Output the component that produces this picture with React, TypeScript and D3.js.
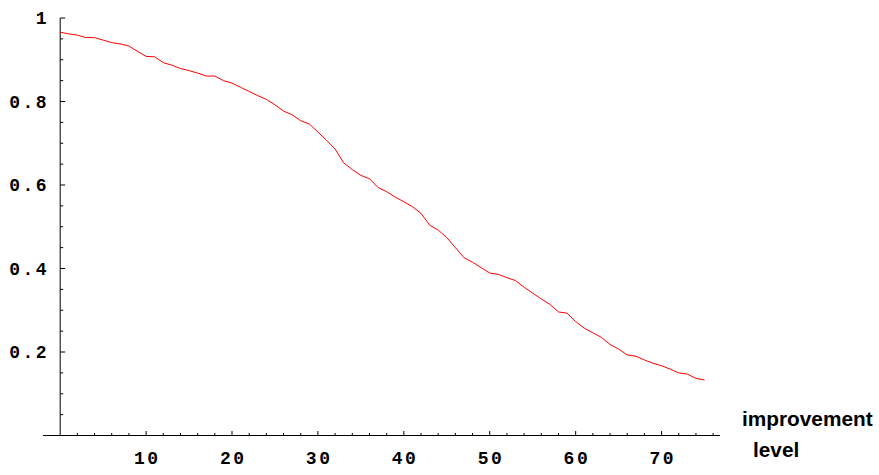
import * as d3 from "d3";

// improvement level -> value
const levels = d3.range(0, 76);
const values = [
  0.966, 0.962, 0.959, 0.953, 0.953, 0.947, 0.941, 0.938, 0.933, 0.92,
  0.908, 0.907, 0.893, 0.887, 0.879, 0.874, 0.868, 0.861, 0.861, 0.85,
  0.844, 0.834, 0.824, 0.814, 0.805, 0.792, 0.777, 0.768, 0.754, 0.746,
  0.727, 0.707, 0.686, 0.653, 0.637, 0.623, 0.615, 0.594, 0.584, 0.571,
  0.56, 0.548, 0.532, 0.504, 0.492, 0.474, 0.45, 0.426, 0.415, 0.402,
  0.389, 0.386, 0.378, 0.371, 0.355, 0.341, 0.327, 0.314, 0.296, 0.293,
  0.273, 0.257, 0.246, 0.235, 0.218, 0.207, 0.193, 0.19, 0.181, 0.173,
  0.167, 0.159, 0.15, 0.147, 0.137, 0.133,
];

const xMajor = [10, 20, 30, 40, 50, 60, 70];
const xMinor = d3.range(2, 77, 2).filter((t) => t % 10 !== 0);
const yMajor = [0.2, 0.4, 0.6, 0.8, 1];
const yMinor = [0.05, 0.1, 0.15, 0.25, 0.3, 0.35, 0.45, 0.5, 0.55, 0.65, 0.7, 0.75, 0.85, 0.9, 0.95];
const yLabels = ["0.2", "0.4", "0.6", "0.8", "1"];
const axisLabel = ["improvement", "level"];

const width = 879;
const height = 475;

const x = d3.scaleLinear().domain([-2, 76.8]).range([43, 720]);
const y = d3.scaleLinear().domain([0, 1]).range([435.5, 18]);

const spacing = 2.5;
const tickFont = { fontFamily: "'Liberation Mono', 'Courier New', monospace", fontWeight: 700, fontSize: 18, letterSpacing: spacing };
const labelFont = { fontFamily: "'Liberation Sans', Arial, sans-serif", fontWeight: 700, fontSize: 20.8 };

export default function App() {
  const line = d3
    .line<number>()
    .x((_, i) => x(levels[i]))
    .y((d) => y(d))(values);

  return (
    <svg width={width} height={height} style={{ position: "absolute", left: 0, top: 0, background: "#fff" }}>
      {/* x axis */}
      <line x1={x(-2)} x2={x(76.8)} y1={y(0)} y2={y(0)} stroke="#000" strokeWidth={1} />
      {xMinor.map((t) => (
        <line key={`xm-${t}`} x1={x(t)} x2={x(t)} y1={y(0)} y2={y(0) - 2.5} stroke="#000" strokeWidth={1} />
      ))}
      {xMajor.map((t) => (
        <g key={`xM-${t}`}>
          <line x1={x(t)} x2={x(t)} y1={y(0)} y2={y(0) - 4.5} stroke="#000" strokeWidth={1} />
          <text x={x(t) + spacing / 2} y={464.3} textAnchor="middle" style={tickFont}>{t}</text>
        </g>
      ))}

      {/* y axis */}
      <line x1={x(0)} x2={x(0)} y1={y(0)} y2={y(1)} stroke="#000" strokeWidth={1} />
      {yMinor.map((t) => (
        <line key={`ym-${t}`} x1={x(0)} x2={x(0) + 3} y1={y(t)} y2={y(t)} stroke="#000" strokeWidth={1} />
      ))}
      {yMajor.map((t, i) => (
        <g key={`yM-${t}`}>
          <line x1={x(0)} x2={x(0) + 5} y1={y(t)} y2={y(t)} stroke="#000" strokeWidth={1} />
          <text x={x(0) - 13.5 + spacing} y={y(t) + 6} textAnchor="end" style={tickFont}>{yLabels[i]}</text>
        </g>
      ))}

      <path d={line ?? ""} fill="none" stroke="#ff0000" strokeWidth={1} strokeLinejoin="round" />

      <text x={742} y={426} style={labelFont}>{axisLabel[0]}</text>
      <text x={753} y={457} style={labelFont}>{axisLabel[1]}</text>
    </svg>
  );
}
